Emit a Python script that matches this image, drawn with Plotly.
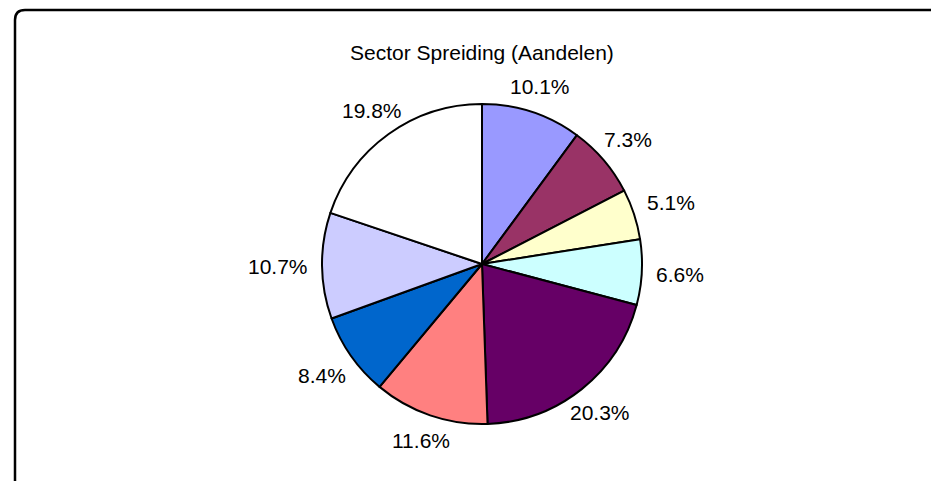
import math
import plotly.graph_objects as go

sectors = ["Sector 1", "Sector 2", "Sector 3", "Sector 4", "Sector 5",
           "Sector 6", "Sector 7", "Sector 8", "Sector 9"]
values = [10.1, 7.3, 5.1, 6.6, 20.3, 11.6, 8.4, 10.7, 19.8]
colors = ["#9999FF", "#993366", "#FFFFCC", "#CCFFFF", "#660066",
          "#FF8080", "#0066CC", "#CCCCFF", "#FFFFFF"]
text_labels = [f"{v:.1f}%" for v in values]
title_text = "Sector Spreiding (Aandelen)"

W, H = 931, 481
cx, cy, r = 482, 264, 160
FONT = "Liberation Sans, Arial, sans-serif"
FS = 21

fig = go.Figure(go.Pie(
    labels=sectors,
    values=values,
    textinfo="none",
    sort=False,
    direction="clockwise",
    rotation=0,
    marker=dict(colors=colors, line=dict(color="#000000", width=2)),
    showlegend=False,
    domain=dict(x=[(cx - r) / W, (cx + r) / W],
                y=[(H - cy - r) / H, (H - cy + r) / H]),
    hoverinfo="label+percent",
))

# Excel-style outside labels: box edge a fixed gap beyond the rim, at mid-angle
charw = {".": 0.278, "%": 0.889}
total = sum(values)
cum = 0.0
annotations = []
gap, th = 14, 24
for v, t in zip(values, text_labels):
    mid = (cum + v / 2) / total * 2 * math.pi
    cum += v
    s, c = math.sin(mid), math.cos(mid)
    tw = FS * sum(charw.get(ch, 0.556) for ch in t)
    d = min((tw / 2) / abs(s) if abs(s) > 1e-6 else 1e9,
            (th / 2) / abs(c) if abs(c) > 1e-6 else 1e9)
    R = r + gap + d
    px, py = cx + R * s, cy - R * c
    annotations.append(dict(text=t, x=px / W, y=1 - py / H, xref="paper", yref="paper",
                            showarrow=False, xanchor="center", yanchor="middle",
                            font=dict(family=FONT, size=FS, color="#000000")))

annotations.append(dict(text=title_text, x=cx / W, y=1 - 52 / H,
                        xref="paper", yref="paper", showarrow=False,
                        xanchor="center", yanchor="middle",
                        font=dict(family=FONT, size=FS, color="#000000")))

x0 = 15 / W
y0 = 1 - 10 / H
rx = 10 / W
ry = 10 / H
path = f"M {x0},0 L {x0},{y0 - ry} Q {x0},{y0} {x0 + rx},{y0} L 1,{y0}"

fig.update_layout(
    width=W, height=H,
    margin=dict(l=0, r=0, t=0, b=0),
    paper_bgcolor="#FFFFFF",
    plot_bgcolor="#FFFFFF",
    shapes=[dict(type="path", xref="paper", yref="paper", path=path,
                 line=dict(color="#000000", width=2.5))],
    annotations=annotations,
)

fig.write_html("out.html", config={"displayModeBar": False},
               post_script="document.body.style.margin='0';document.body.style.overflow='hidden';")
